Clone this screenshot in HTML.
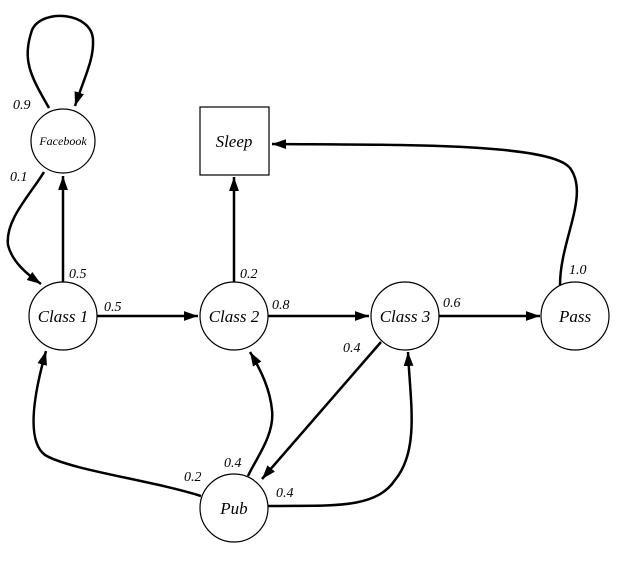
<!DOCTYPE html>
<html><head><style>
html,body{margin:0;padding:0;background:#fff;}
text{font-family:"Liberation Serif",serif;font-style:italic;}
</style></head><body>
<svg width="627" height="558" viewBox="0 0 627 558" xmlns="http://www.w3.org/2000/svg">
<defs>
<marker id="a" viewBox="0 0 10 10" refX="10" refY="5" markerWidth="7" markerHeight="7" markerUnits="userSpaceOnUse" orient="auto">
<path d="M0,0 L10,5 L0,10 z" fill="#000"/></marker>
<marker id="b" viewBox="0 0 10 10" refX="10" refY="5" markerWidth="14" markerHeight="14" markerUnits="userSpaceOnUse" orient="auto">
<path d="M0,1.5 L10,5 L0,8.5 z" fill="#000"/></marker>
</defs>
<g fill="none" stroke="#000" stroke-width="2.5" marker-end="url(#b)">
<path d="M49,108 C30,75 22,60 32,30 C42,8 92,12 93,40 C94,60 84,78 75,106"/>
<path d="M44,172 C30,195 5,220 8,245 C12,262 28,275 41,284"/>
<path d="M63,282 L63,176"/>
<path d="M234,282 L234,177"/>
<path d="M560,285 C560,240 590,195 570,168 C550,143 400,145 272,144"/>
<path d="M97,316 L198,316"/>
<path d="M268,316 L369,316"/>
<path d="M439,316 L540,316"/>
<path d="M381,342 L262,479"/>
<path d="M248,476 C255,460 275,435 272,410 C270,390 262,372 250,352"/>
<path d="M268,506 C330,505 375,510 395,480 C420,450 410,400 408,352"/>
<path d="M201,496 C150,480 70,470 45,455 C25,440 35,390 46,351"/>
</g>
<g fill="#fff" stroke="#000" stroke-width="1.2">
<circle cx="63" cy="141" r="32"/>
<rect x="200" y="107" width="69" height="68"/>
<circle cx="63" cy="316" r="34"/>
<circle cx="234" cy="316" r="34"/>
<circle cx="405" cy="316" r="34"/>
<circle cx="575" cy="316" r="34"/>
<circle cx="234" cy="508" r="34"/>
</g>
<g text-anchor="middle" font-size="17">
<text x="63" y="145" font-size="12">Facebook</text>
<text x="234" y="147">Sleep</text>
<text x="63" y="322">Class 1</text>
<text x="234" y="322">Class 2</text>
<text x="405" y="322">Class 3</text>
<text x="575" y="322">Pass</text>
<text x="234" y="514">Pub</text>
</g>
<g font-size="14">
<text x="13" y="109">0.9</text>
<text x="10" y="181">0.1</text>
<text x="69" y="278">0.5</text>
<text x="104" y="311">0.5</text>
<text x="240" y="278">0.2</text>
<text x="272" y="309">0.8</text>
<text x="443" y="307">0.6</text>
<text x="569" y="274">1.0</text>
<text x="343" y="352">0.4</text>
<text x="224" y="467">0.4</text>
<text x="184" y="481">0.2</text>
<text x="276" y="497">0.4</text>
</g>
</svg>
</body></html>
